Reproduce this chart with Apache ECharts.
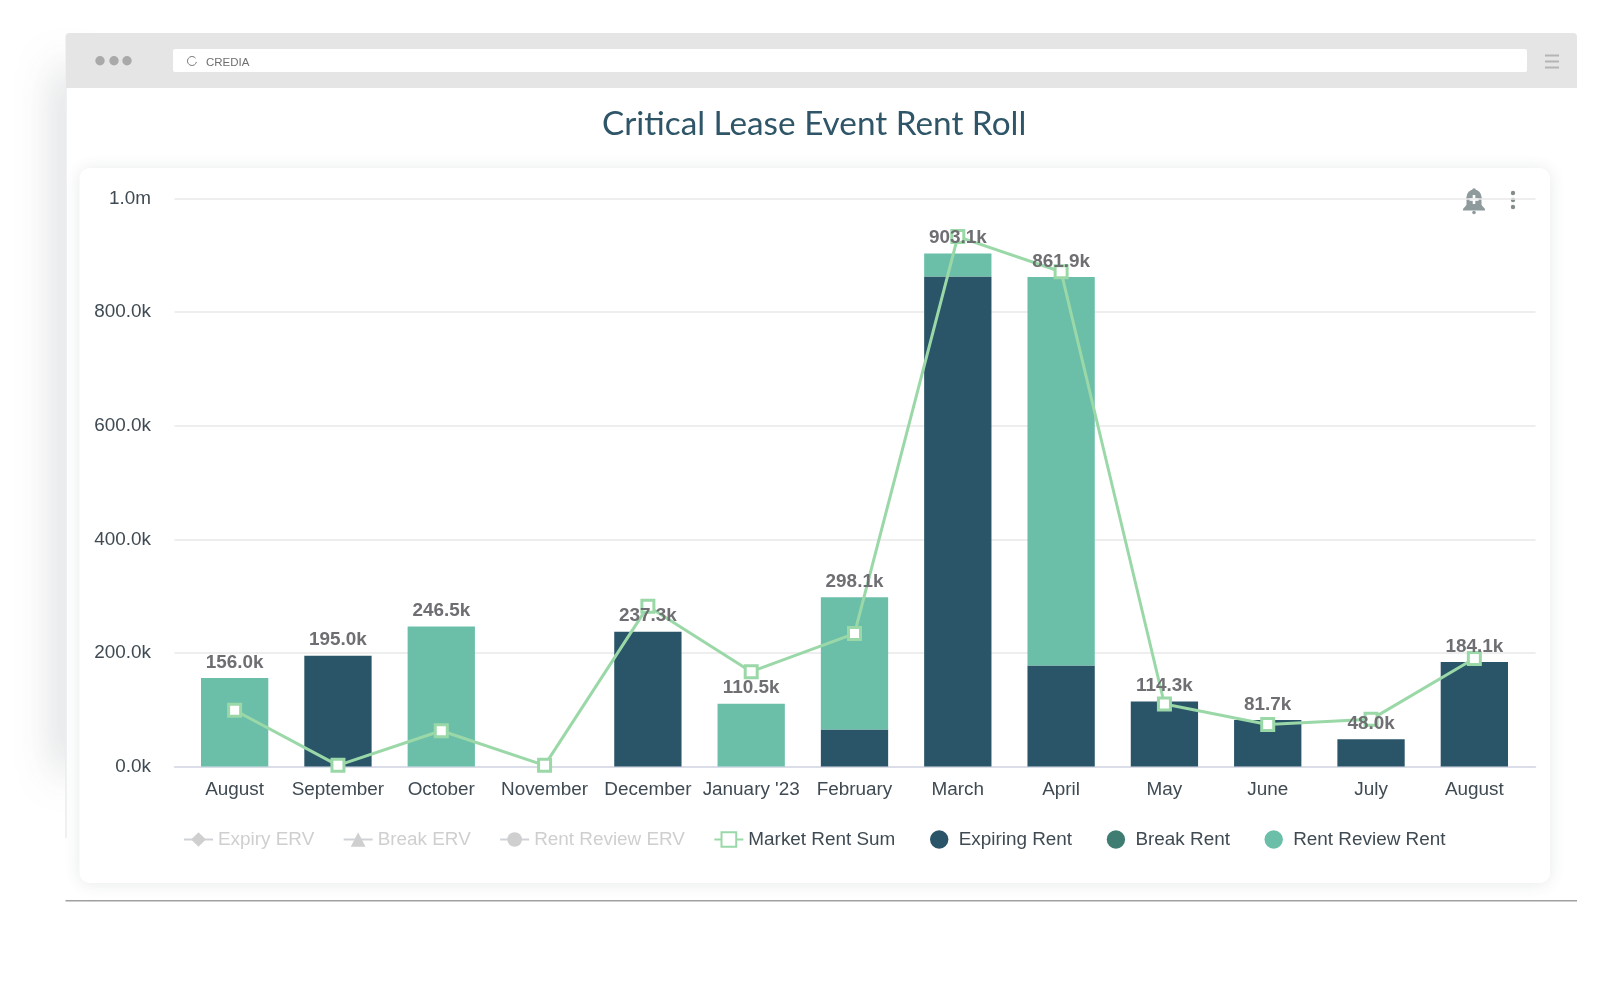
<!DOCTYPE html>
<html>
<head>
<meta charset="utf-8">
<title>Critical Lease Event Rent Roll</title>
<script src="https://cdn.jsdelivr.net/npm/echarts@6/dist/echarts.min.js"></script>
<style>
    html, body { margin: 0; padding: 0; background: #fff; }
    #chart { width: 1600px; height: 987px; }
</style>
</head>
<body>
<div id="chart"></div>
<script>
(function () {
    'use strict';

    var categories = ['August', 'September', 'October', 'November', 'December', "January '23", 'February', 'March', 'April', 'May', 'June', 'July', 'August'];
    var expiringRent = [null, 195000, null, null, 237300, null, 65000, 862500, 178000, 114300, 81700, 48000, 184100];
    var breakRent = [null, null, null, null, null, null, null, null, null, null, null, null, null];
    var rentReviewRent = [156000, null, 246500, null, null, 110500, 233100, 40600, 683900, null, null, null, null];
    var totals = [156000, 195000, 246500, null, 237300, 110500, 298100, 903100, 861900, 114300, 81700, 48000, 184100];
    var marketRentSum = [99000, 2000, 63000, 2000, 282000, 167000, 234000, 933000, 871000, 110000, 74000, 83000, 190000];
    var yTicks = { min: 0, max: 1000000, interval: 200000 };

    function fmt(v) {
        if (v >= 1000000) {
            return (v / 1000000).toFixed(1) + 'm';
        }
        return (v / 1000).toFixed(1) + 'k';
    }

    function dot(x, y, r, color) {
        return { type: 'circle', silent: true, shape: { cx: x, cy: y, r: r }, style: { fill: color } };
    }

    function box(x, y, w, h, r, fill, extra) {
        var style = { fill: fill };
        for (var k in extra) {
            style[k] = extra[k];
        }
        return { type: 'rect', silent: true, shape: { x: x, y: y, width: w, height: h, r: r }, style: style };
    }

    // fake browser window behind the chart
    var frame = [
        box(74, 70, 10, 700, 0, '#d8dadc', { shadowBlur: 40, shadowColor: 'rgba(60,70,80,0.55)', shadowOffsetX: -10, shadowOffsetY: 0 }),
        box(65.5, 33, 1511.5, 868, 3, '#fff'),
        box(65.5, 900, 1511.5, 1.5, 0, '#a0a0a0'),
        box(65.5, 88, 1, 750, 0, '#e2e3e5'),
        box(65.5, 33, 1511.5, 55, [4, 4, 0, 0], '#e5e5e6'),
        box(173, 49, 1354, 23, 2, '#fff'),
        dot(100, 60.7, 4.7, '#a9a9a9'),
        dot(114, 60.7, 4.7, '#a9a9a9'),
        dot(127, 60.7, 4.7, '#a9a9a9'),
        { type: 'arc', silent: true, shape: { cx: 192, cy: 61, r: 4.5, startAngle: 0.2, endAngle: 5.6 }, style: { stroke: '#777', fill: null, lineWidth: 1 } },
        { type: 'text', silent: true, x: 206, y: 62.5, style: { text: 'CREDIA', fill: '#6f6f6f', font: '11.5px "Liberation Sans"', textVerticalAlign: 'middle' } },
        box(1545, 54.5, 14, 2, 0, '#b4b4b4'),
        box(1545, 60.5, 14, 2, 0, '#b4b4b4'),
        box(1545, 66.5, 14, 2, 0, '#b4b4b4'),
        box(79.5, 168, 1470.5, 715, 10, '#fff', { shadowBlur: 16, shadowColor: 'rgba(60,70,80,0.12)', shadowOffsetX: 0, shadowOffsetY: 1 }),
        // alert bell, built from simple shapes
        dot(1474, 190, 1.8, '#8e9a9c'),
        dot(1474, 197, 7.5, '#8e9a9c'),
        box(1466.5, 197, 15, 10, 0, '#8e9a9c'),
        { type: 'polygon', silent: true, shape: { points: [[1466.5, 205], [1481.5, 205], [1485, 209], [1485, 210.5], [1463, 210.5], [1463, 209]] }, style: { fill: '#8e9a9c' } },
        dot(1474, 212.5, 1.8, '#8e9a9c'),
        box(1472.7, 195, 2.6, 9, 0, '#fff'),
        box(1469.5, 198.2, 9, 2.6, 0, '#fff'),
        dot(1513, 193, 2.2, '#848c8e'),
        dot(1513, 200, 2.2, '#848c8e'),
        dot(1513, 207, 2.2, '#848c8e')
    ];

    var legendText = { fontFamily: 'Liberation Sans', fontSize: 18.9, color: '#3f4a52' };

    var myChart = echarts.init(document.getElementById('chart'), null, { renderer: 'canvas' });

    myChart.setOption({
        animation: false,
        backgroundColor: '#fff',
        title: {
            text: 'Critical Lease Event Rent Roll',
            left: 597,
            top: 103,
            textStyle: { fontFamily: 'Lato', fontWeight: 'normal', fontSize: 33.3, color: '#2f5568' }
        },
        graphic: { elements: frame },
        // two legends, the source spaces the line and bar groups differently
        legend: [
            {
                left: 178,
                top: 825,
                itemWidth: 29,
                itemHeight: 18.4,
                itemGap: 28.4,
                inactiveColor: '#cfcfcf',
                textStyle: legendText,
                selected: { 'Expiry ERV': false, 'Break ERV': false, 'Rent Review ERV': false },
                data: ['Expiry ERV', 'Break ERV', 'Rent Review ERV', 'Market Rent Sum']
            },
            {
                left: 925,
                top: 825,
                itemWidth: 29,
                itemHeight: 18.4,
                itemGap: 34.6,
                textStyle: legendText,
                data: [
                    { name: 'Expiring Rent', icon: 'circle' },
                    { name: 'Break Rent', icon: 'circle' },
                    { name: 'Rent Review Rent', icon: 'circle' }
                ]
            }
        ],
        // grid 0 carries the gridlines, grid 1 the narrower category band
        grid: [
            { left: 174.5, width: 1361, top: 198.5, height: 568 },
            { left: 183, width: 1343, top: 198.5, height: 568 }
        ],
        xAxis: [
            {
                gridIndex: 0, type: 'value', min: 0, max: 1,
                axisLine: { show: true, lineStyle: { color: '#d5d9e6', width: 1.5 } },
                axisTick: { show: false }, axisLabel: { show: false }, splitLine: { show: false }
            },
            {
                gridIndex: 1, type: 'category', data: categories,
                axisLine: { show: false }, axisTick: { show: false },
                axisLabel: { interval: 0, margin: 14, fontFamily: 'Liberation Sans', fontSize: 18.9, color: '#3f4a52' }
            }
        ],
        yAxis: [
            {
                gridIndex: 0, type: 'value', min: yTicks.min, max: yTicks.max, interval: yTicks.interval,
                axisLine: { show: false }, axisTick: { show: false },
                axisLabel: { margin: 23.5, fontFamily: 'Liberation Sans', fontSize: 18.9, color: '#3f4a52', formatter: fmt },
                splitLine: { lineStyle: { color: '#e8e8e8', width: 1.5 } }
            },
            {
                gridIndex: 1, type: 'value', min: yTicks.min, max: yTicks.max, interval: yTicks.interval,
                show: false, splitLine: { show: false }
            }
        ],
        series: [
            { name: 'Expiry ERV', type: 'line', xAxisIndex: 1, yAxisIndex: 1, symbol: 'diamond', symbolSize: 16, data: [] },
            { name: 'Break ERV', type: 'line', xAxisIndex: 1, yAxisIndex: 1, symbol: 'triangle', symbolSize: 16, data: [] },
            { name: 'Rent Review ERV', type: 'line', xAxisIndex: 1, yAxisIndex: 1, symbol: 'circle', symbolSize: 16, data: [] },
            {
                name: 'Expiring Rent', type: 'bar', stack: 'rent', xAxisIndex: 1, yAxisIndex: 1,
                barWidth: 67.3, itemStyle: { color: '#2a5468' }, data: expiringRent
            },
            {
                name: 'Break Rent', type: 'bar', stack: 'rent', xAxisIndex: 1, yAxisIndex: 1,
                barWidth: 67.3, itemStyle: { color: '#3f7d72' }, data: breakRent
            },
            {
                name: 'Rent Review Rent', type: 'bar', stack: 'rent', xAxisIndex: 1, yAxisIndex: 1,
                barWidth: 67.3, itemStyle: { color: '#6bbfa9' }, data: rentReviewRent
            },
            {
                name: 'Market Rent Sum', type: 'line', xAxisIndex: 1, yAxisIndex: 1, z: 5,
                symbol: 'rect', symbolSize: 12, showAllSymbol: true,
                lineStyle: { color: '#9bd8a8', width: 3 },
                itemStyle: { color: '#fff', borderColor: '#9bd8a8', borderWidth: 3 },
                data: marketRentSum
            },
            {
                // invisible carrier for the stack totals
                name: 'Total', type: 'line', xAxisIndex: 1, yAxisIndex: 1, z: 6,
                symbol: 'circle', symbolSize: 1, showAllSymbol: true,
                lineStyle: { width: 0, color: 'transparent' },
                itemStyle: { color: 'transparent' },
                label: {
                    show: true, position: 'top', distance: 5.5,
                    fontFamily: 'Liberation Sans', fontWeight: 'bold', fontSize: 18.9, color: '#6e6e73',
                    formatter: function (p) { return fmt(p.value); }
                },
                data: totals
            }
        ]
    });
})();
</script>
</body>
</html>
